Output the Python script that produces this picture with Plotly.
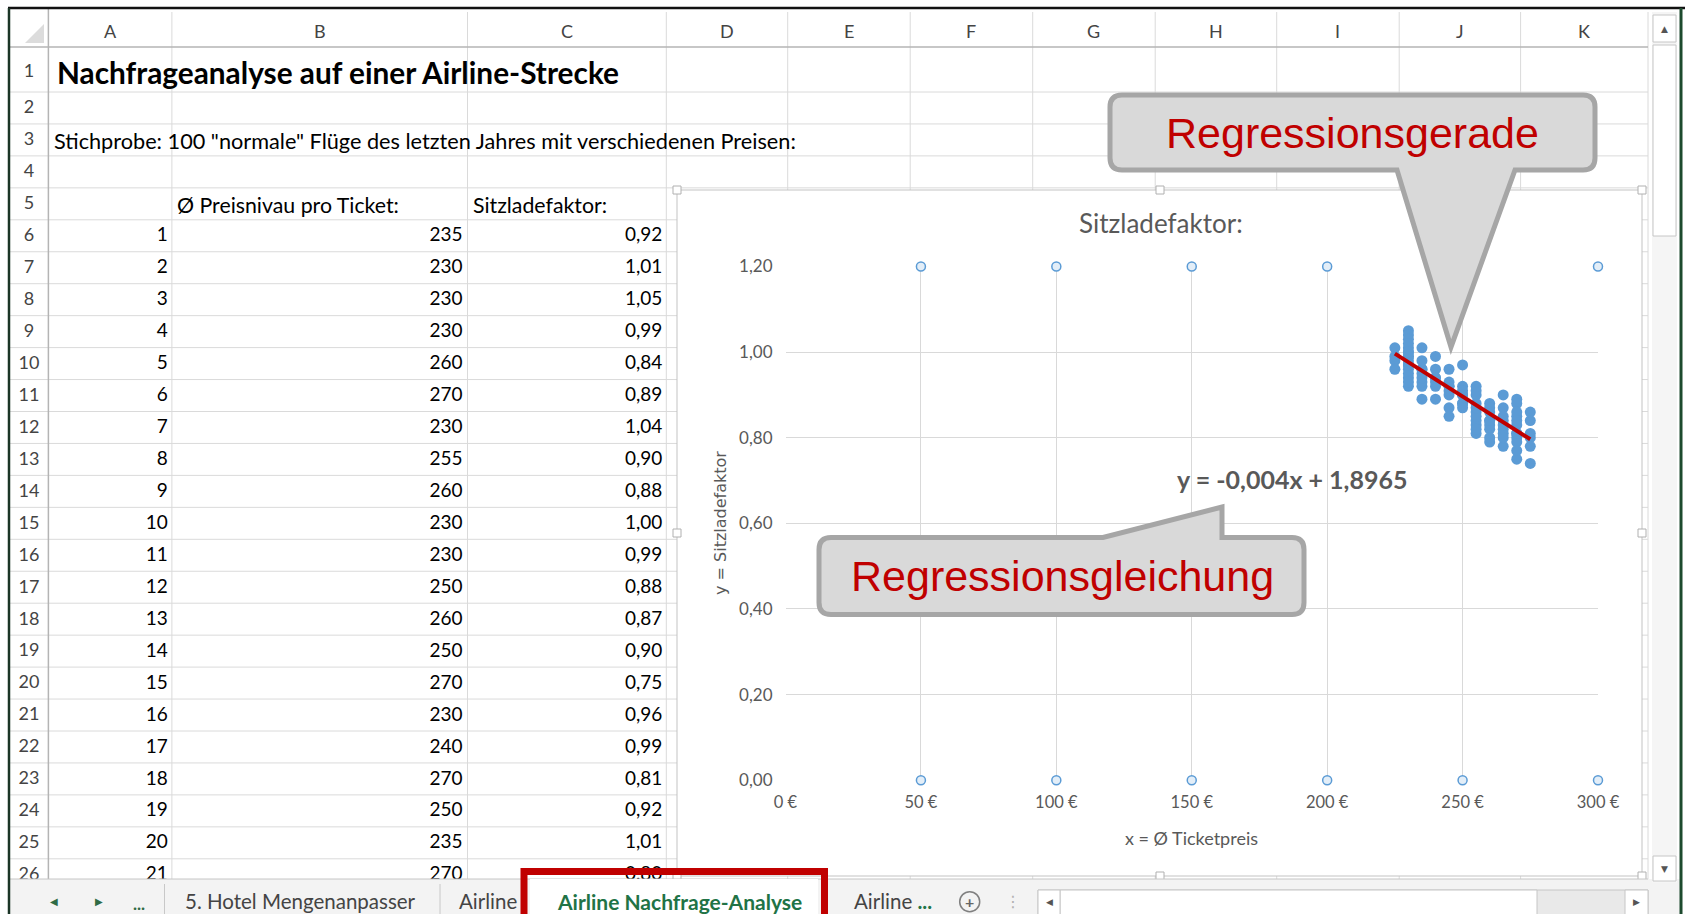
import plotly.graph_objects as go

# ---------------- data ----------------
preis = [
    235, 230, 230, 230, 260, 270, 230, 255, 260, 230,
    230, 250, 260, 250, 270, 230, 240, 270, 250, 235,
    270, 245, 225, 265, 230, 255, 275, 240, 260, 235,
    270, 250, 230, 265, 245, 255, 225, 275, 240, 230,
    270, 260, 235, 255, 250, 265, 245, 230, 270, 275,
    240, 255, 225, 260, 230, 265, 235, 245, 270, 250,
    255, 230, 275, 240, 265, 235, 260, 245, 270, 255,
    230, 250, 265, 225, 275, 240, 255, 230, 270, 260,
    235, 245, 265, 255, 230, 270, 250, 245, 275, 235,
    260, 265, 255, 230, 270, 240, 245, 265, 255, 235,
]
sitzladefaktor = [
    0.92, 1.01, 1.05, 0.99, 0.84, 0.89, 1.04, 0.90, 0.88, 1.00,
    0.99, 0.88, 0.87, 0.90, 0.75, 0.96, 0.99, 0.81, 0.92, 1.01,
    0.80, 0.93, 1.01, 0.84, 0.97, 0.86, 0.80, 0.94, 0.82, 0.96,
    0.85, 0.91, 1.03, 0.81, 0.90, 0.83, 0.98, 0.84, 0.92, 0.94,
    0.79, 0.86, 0.93, 0.91, 0.97, 0.87, 0.96, 0.92, 0.88, 0.74,
    0.96, 0.84, 0.96, 0.79, 1.02, 0.78, 0.89, 0.87, 0.83, 0.88,
    0.81, 0.95, 0.86, 0.89, 0.90, 0.98, 0.83, 0.92, 0.77, 0.88,
    0.98, 0.87, 0.82, 0.99, 0.78, 0.93, 0.92, 0.93, 0.86, 0.80,
    0.95, 0.85, 0.85, 0.85, 1.00, 0.81, 0.90, 0.91, 0.81, 0.94,
    0.84, 0.80, 0.82, 0.97, 0.84, 0.94, 0.92, 0.83, 0.87, 0.96,
]
flug_nr = list(range(1, len(preis) + 1))
trend_steigung = -0.004
trend_achsenabschnitt = 1.8965
x_ticks = [0, 50, 100, 150, 200, 250, 300]
x_ticktext = [f"{v} €" for v in x_ticks]
y_ticks = [0.0, 0.2, 0.4, 0.6, 0.8, 1.0, 1.2]
spalten = ["A", "B", "C", "D", "E", "F", "G", "H", "I", "J", "K"]
blaetter = ["5. Hotel Mengenanpasser", "Airline", "Airline Nachfrage-Analyse", "Airline"]
sichtbare_zeilen = 21          # data rows 6..26 visible in the sheet
erste_datenzeile = 6

# ---------------- layout helpers (pixel geometry) ----------------
W, H = 1685, 914
FONT = "Lato"
GRAY = "#595959"
GRID = "#dadada"
col_edges = [48.4, 171.9, 467.5, 666.3, 787.7, 910.2, 1032.7, 1155.2, 1276.7, 1399.2, 1520.6, 1648]


def row_top(r):
    return 47.0 if r == 1 else 92.0 + (r - 2) * 31.95


def row_mid(r):
    return 72.0 if r == 1 else row_top(r) + 16.8


shapes = []
annotations = []


def rect(x0, y0, x1, y1, fill=None, line=None, lw=1, layer="below"):
    shapes.append(dict(type="rect", xref="x", yref="y", x0=x0, y0=y0, x1=x1, y1=y1,
                       fillcolor=fill or "rgba(0,0,0,0)",
                       line=dict(color=line or "rgba(0,0,0,0)", width=lw if line else 0),
                       layer=layer))


def seg(x0, y0, x1, y1, color, width=1, layer="below"):
    shapes.append(dict(type="line", xref="x", yref="y", x0=x0, y0=y0, x1=x1, y1=y1,
                       line=dict(color=color, width=width), layer=layer))


def text(x, y, s, size=19, color="#000", family=FONT, xanchor="center", yanchor="middle", angle=0):
    annotations.append(dict(xref="x", yref="y", x=x, y=y, text=s, showarrow=False,
                            xanchor=xanchor, yanchor=yanchor, textangle=angle,
                            font=dict(family=family, size=size, color=color)))


# ---------------- spreadsheet grid ----------------
for r in range(2, 28):
    seg(48.4, row_top(r), 1648, row_top(r), GRID, 1)
    seg(9, row_top(r), 48.4, row_top(r), GRID, 1)
for xe in col_edges[1:]:
    seg(xe, 47, xe, 879, GRID, 1)
for xe in col_edges[1:]:
    seg(xe, 12, xe, 47, GRID, 1)
seg(9, 47, 1648, 47, "#b4b4b4", 1.5)
seg(48.4, 9, 48.4, 879, "#b4b4b4", 1.5)
shapes.append(dict(type="path", xref="x", yref="y", path="M 25,43 L 44,43 L 44,24 Z",
                   fillcolor="#dcdcdc", line=dict(width=0), layer="below"))

# column letters
for i, c in enumerate(spalten):
    text((col_edges[i] + col_edges[i + 1]) / 2, 31, c, size=18, color="#444")

# sheet texts
text(55, row_mid(1), "<b>Nachfrageanalyse auf einer Airline-Strecke</b>", size=29.8, xanchor="left")
text(52, row_mid(3), 'Stichprobe: 100 "normale" Flüge des letzten Jahres mit verschiedenen Preisen:',
     size=21.7, xanchor="left")
text(175, row_mid(5), "Ø Preisnivau pro Ticket:", size=21.3, xanchor="left")
text(471, row_mid(5), "Sitzladefaktor:", size=21.3, xanchor="left")

# chart area background + border + handles
rect(677, 190, 1642, 876, fill="white", line="#c3c3c3", lw=1)
for hx, hy in [(677, 190), (1160, 190), (1642, 190), (677, 533), (1642, 533),
               (677, 876), (1160, 876), (1642, 876)]:
    rect(hx - 4, hy - 4, hx + 4, hy + 4, fill="white", line="#b0b0b0", lw=1)

# ---------------- callouts ----------------
def rounded_callout(L, T, R, B, rad, mid):
    return (f"M {L+rad},{T} " + mid.get("top", "") + f"H {R-rad} Q {R},{T} {R},{T+rad} V {B-rad} "
            f"Q {R},{B} {R-rad},{B} " + mid.get("bottom", "") + f"H {L+rad} Q {L},{B} {L},{B-rad} "
            f"V {T+rad} Q {L},{T} {L+rad},{T} Z")


p1 = rounded_callout(1110, 95, 1595, 170, 12, {"bottom": "H 1515 L 1451,347 L 1397,170 "})
p2 = rounded_callout(819, 537.5, 1304, 614.5, 12, {"top": "H 1103 L 1222,507 L 1222,537.5 "})
for p in (p1, p2):
    shapes.append(dict(type="path", xref="x", yref="y", path=p, fillcolor="#d9d9d9",
                       line=dict(color="#a6a6a6", width=5), layer="above"))
text(1352, 133, "Regressionsgerade", size=43, color="#c00000", family="Liberation Sans, Arial")
text(1062, 576, "Regressionsgleichung", size=43, color="#c00000", family="Liberation Sans, Arial")

# ---------------- tab bar ----------------
rect(9, 879, 1681, 916, fill="#f3f3f3", line=None, layer="above")
seg(9, 879, 1648, 879, "#c6c6c6", 1, layer="above")
rect(530, 879, 818, 916, fill="white", layer="above")
for sx in (164.5, 440):
    seg(sx, 884, sx, 914, "#c8c8c8", 1, layer="above")
rect(524, 871.5, 824.5, 922, line="#c00000", lw=7, layer="above")
text(54, 901, "◀", size=10, color="#2f6b45", family="DejaVu Sans")
text(99, 901, "▶", size=10, color="#2f6b45", family="DejaVu Sans")
text(139, 903, "<b>...</b>", size=17, color="#2f6b45")
text(300, 901, blaetter[0], size=20.5, color="#444")
text(488, 901, blaetter[1], size=20.5, color="#444")
text(679, 901, "<b>" + blaetter[2] + "</b>", size=21, color="#217346")
text(893, 901, blaetter[3] + " <b><span style='color:#217346'>...</span></b>", size=20.5, color="#444")
shapes.append(dict(type="circle", xref="x", yref="y", x0=959.7, x1=979.7, y0=891.7, y1=911.7,
                   line=dict(color="#808080", width=1.5), layer="above"))
text(969.7, 901.2, "<b>+</b>", size=16, color="#666")
text(1013, 901, "⋮", size=16, color="#b0b0b0", family="DejaVu Sans")
# horizontal scrollbar
rect(1038, 890, 1648, 918, fill="#e9e9e9", line="#c6c6c6", lw=1, layer="above")
rect(1060, 890, 1537, 918, fill="white", line="#c6c6c6", lw=1, layer="above")
rect(1038, 890, 1060, 918, fill="white", line="#c6c6c6", lw=1, layer="above")
rect(1625, 890, 1648, 918, fill="white", line="#c6c6c6", lw=1, layer="above")
text(1049, 902, "◀", size=9, color="#555", family="DejaVu Sans")
text(1636.5, 902, "▶", size=9, color="#555", family="DejaVu Sans")
# vertical scrollbar
rect(1652, 12, 1677, 883, fill="#f5f5f5", line=None, layer="above")
rect(1653, 15, 1676, 42, fill="white", line="#c6c6c6", lw=1, layer="above")
rect(1653, 45, 1676, 236, fill="white", line="#c6c6c6", lw=1, layer="above")
rect(1653, 856, 1676, 881, fill="white", line="#c6c6c6", lw=1, layer="above")
text(1664.5, 29, "▲", size=9, color="#555", family="DejaVu Sans")
text(1664.5, 869, "▼", size=9, color="#555", family="DejaVu Sans")
# outer frame
seg(8, 8, 1685, 8, "#111", 2.5, layer="above")
seg(9, 8, 9, 914, "#1b3526", 2.5, layer="above")
seg(1681, 8, 1681, 914, "#1d4a2e", 3, layer="above")

# ---------------- traces ----------------
fig = go.Figure()
zeilen = list(range(erste_datenzeile, erste_datenzeile + sichtbare_zeilen))
ys = [row_mid(r) for r in zeilen]
tab_font = dict(family=FONT, size=19, color="#000")

# row numbers (sheet chrome)
fig.add_trace(go.Scatter(x=[29] * 26, y=[row_mid(r) for r in range(1, 27)], mode="text",
                         text=[str(r) for r in range(1, 27)], textposition="middle center",
                         textfont=dict(family=FONT, size=18, color="#444"), cliponaxis=False,
                         hoverinfo="skip", xaxis="x", yaxis="y"))
fig.add_trace(go.Scatter(x=[col_edges[1] - 4] * sichtbare_zeilen, y=ys, mode="text",
                         text=[str(v) for v in flug_nr[:sichtbare_zeilen]], textposition="middle left",
                         textfont=tab_font, cliponaxis=False, hoverinfo="skip", xaxis="x", yaxis="y"))
fig.add_trace(go.Scatter(x=[col_edges[2] - 5] * sichtbare_zeilen, y=ys, mode="text",
                         text=[str(v) for v in preis[:sichtbare_zeilen]], textposition="middle left",
                         textfont=tab_font, cliponaxis=False, hoverinfo="skip", xaxis="x", yaxis="y"))
fig.add_trace(go.Scatter(x=[col_edges[3] - 4] * sichtbare_zeilen, y=ys, mode="text",
                         text=[f"{v:.2f}".replace(".", ",") for v in sitzladefaktor[:sichtbare_zeilen]],
                         textposition="middle left", textfont=tab_font, cliponaxis=False,
                         hoverinfo="skip", xaxis="x", yaxis="y"))

# chart: gridline end handles (selected vertical gridlines)
hx = [v for v in x_ticks if v > 0]
fig.add_trace(go.Scatter(x=hx + hx, y=[y_ticks[0]] * len(hx) + [y_ticks[-1]] * len(hx), mode="markers",
                         marker=dict(size=9, color="#e3eef8", line=dict(color="#5b9bd5", width=1.5)),
                         cliponaxis=False, hoverinfo="skip", xaxis="x2", yaxis="y2"))
# data points
fig.add_trace(go.Scatter(x=preis, y=sitzladefaktor, mode="markers",
                         marker=dict(size=11, color="#5b9bd5"), cliponaxis=False,
                         xaxis="x2", yaxis="y2"))
# linear trendline
tx = [min(preis), max(preis)]
fig.add_trace(go.Scatter(x=tx, y=[trend_steigung * v + trend_achsenabschnitt for v in tx], mode="lines",
                         line=dict(color="#c00000", width=4), xaxis="x2", yaxis="y2"))

# chart texts
text(1160.6, 223, "Sitzladefaktor:", size=26, color=GRAY)
text(1191, 838, "x = Ø Ticketpreis", size=18, color=GRAY)
text(720, 523, "y = Sitzladefaktor", size=16, color=GRAY, family="DejaVu Sans", angle=-90)
eq = f"y = {trend_steigung:.3f}x + {trend_achsenabschnitt:.4f}".replace(".", ",")
text(1292, 479, "<b>" + eq + "</b>", size=25, color=GRAY)

x0p, x1p, ybp, ytp = 785.5, 1598.0, 780.2, 266.5
fig.update_layout(
    template="none",
    width=W, height=H, autosize=False,
    margin=dict(l=0, r=0, t=0, b=0, pad=0, autoexpand=False),
    paper_bgcolor="white", plot_bgcolor="rgba(0,0,0,0)",
    showlegend=False, hovermode=False, separators=", ",
    xaxis=dict(domain=[0, 1], range=[0, W], visible=False, fixedrange=True, automargin=False),
    yaxis=dict(domain=[0, 1], range=[H, 0], visible=False, fixedrange=True, automargin=False),
    xaxis2=dict(domain=[x0p / W, x1p / W], range=[0, 300], anchor="y2", automargin=False,
                tickmode="array", tickvals=x_ticks, ticktext=x_ticktext, showgrid=True,
                gridcolor="#d9d9d9", gridwidth=1, zeroline=False, showline=False, ticks="",
                tickfont=dict(family=FONT, size=16.5, color=GRAY), ticklabelstandoff=10,
                fixedrange=True),
    yaxis2=dict(domain=[1 - ybp / H, 1 - ytp / H], range=[0, 1.2], anchor="x2", automargin=False,
                tickmode="array", tickvals=y_ticks, tickformat=".2f", showgrid=True,
                gridcolor="#d9d9d9", gridwidth=1, zeroline=False, showline=False, ticks="",
                tickfont=dict(family=FONT, size=17, color=GRAY), ticklabelstandoff=12,
                fixedrange=True),
    shapes=shapes, annotations=annotations,
)
fig.write_html("out.html", config={"displayModeBar": False},
               post_script="document.body.style.margin='0px';")
